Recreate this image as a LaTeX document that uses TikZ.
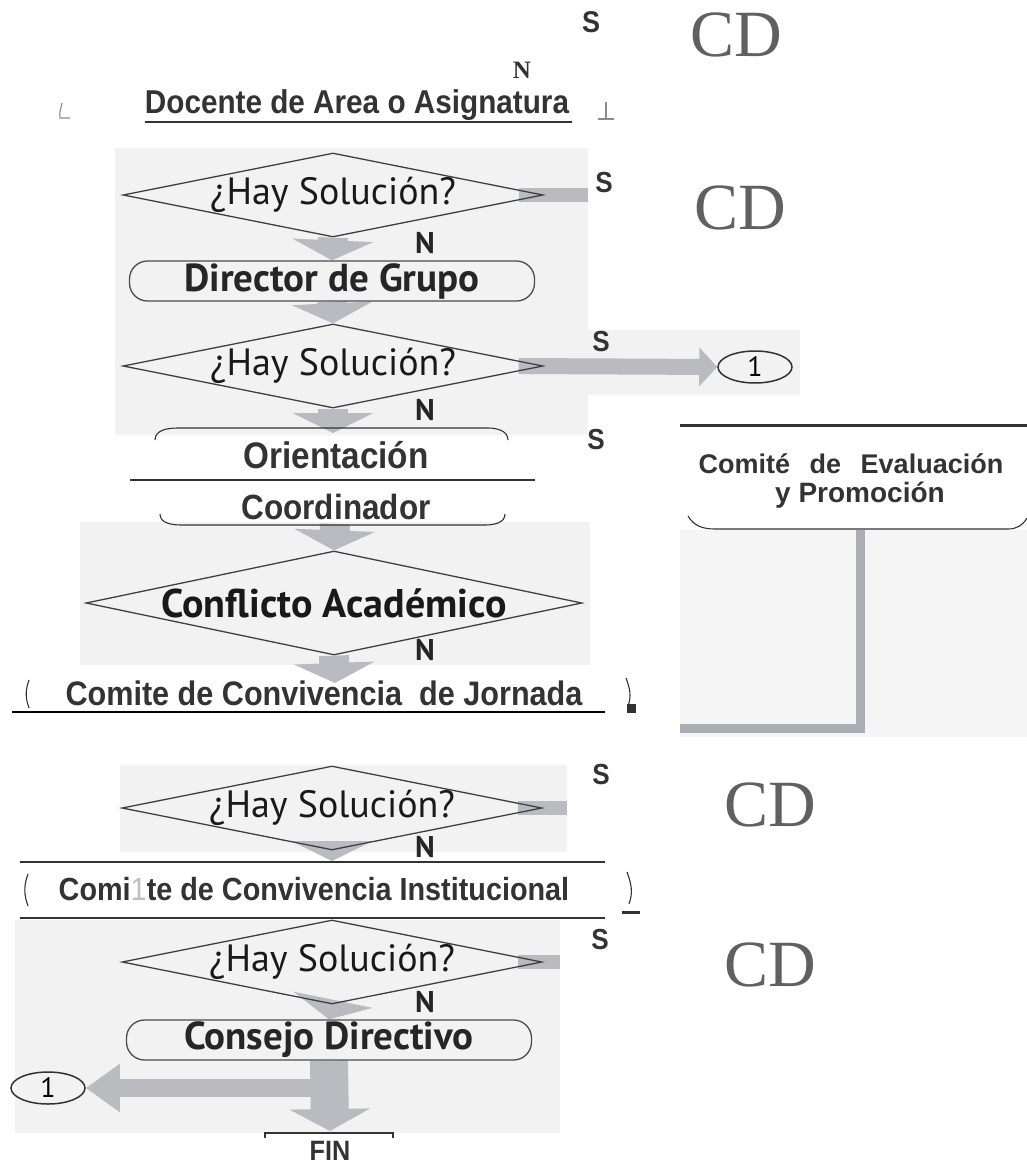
\documentclass[tikz,border=0pt]{standalone}
\usepackage{fontspec}
\setmainfont{Liberation Serif}
\newfontfamily\myriad{PT Sans}
\newfontfamily\arialn[FakeStretch=0.9]{Liberation Sans}
\newfontfamily\arialw{Liberation Sans}
\usetikzlibrary{shapes.geometric,arrows.meta}
\pgfdeclarelayer{panel}
\pgfdeclarelayer{bg}
\pgfsetlayers{panel,bg,main}
\newcommand\fsz[1]{\fontsize{#1}{#1}\selectfont}
\definecolor{pgray}{HTML}{F2F2F2}
\definecolor{pgrayb}{HTML}{F5F5F5}
\definecolor{agray}{HTML}{B9BBC0}
\definecolor{tgray}{HTML}{333333}
\definecolor{cdgray}{HTML}{606060}
\definecolor{lgray}{HTML}{AAADB4}
\tikzset{
  dia/.style={diamond, draw=black!75, line width=1.3pt, inner sep=0pt, aspect=5.2,
    minimum width=420pt, minimum height=84pt, font=\myriad\fsz{38}, text=black!90},
  rbox/.style={draw=black!70, line width=1.3pt, rounded corners=18pt, minimum width=405pt,
    minimum height=40pt, inner sep=0pt, font=\myriad\bfseries\fsz{39}, text=black!85},
  garrow/.style={draw=agray, line width=30pt, -{Triangle[width=80pt,length=20pt]}},
  gbar/.style={draw=agray, line width=14pt},
  harrow/.style={draw=agray, line width=16pt, -{Triangle[width=38pt,length=18pt]}},
  slab/.style={font=\arialn\bfseries\fsz{29}, text=tgray},
  nlab/.style={font=\myriad\bfseries\fsz{30}, text=black!85},
  cdstyle/.style={font=\fsz{66}, text=cdgray},
  atext/.style={font=\arialn\bfseries\fsz{35}, text=tgray},
  oneb/.style={ellipse, draw=black!80, line width=1.5pt, minimum width=74pt, minimum height=32pt,
    inner sep=0pt, font=\myriad\fsz{28}},
  thickln/.style={draw=tgray, line width=2.5pt},
  thinln/.style={draw=tgray, line width=1.1pt}
}
\begin{document}
\begin{tikzpicture}[x=1pt,y=-1pt]
\useasboundingbox (0,0) rectangle (1027,1167);

% panels
\begin{pgfonlayer}{panel}
\fill[white] (0,0) rectangle (1027,1167);
\fill[pgray] (115,148) rectangle (588,435);
\fill[pgray] (588,330) rectangle (800,395);
\fill[pgray] (80,522) rectangle (590,665);
\fill[pgrayb] (680,530) rectangle (1027,737);
\fill[pgray] (120,765) rectangle (567,852);
\fill[pgray] (15,920) rectangle (560,1133);
\end{pgfonlayer}

% top
\node[slab, font=\arialn\bfseries\fsz{30}] (stop) at (591,22) {S};
\node[cdstyle] (cd0) at (736,35) {CD};
\node[font=\bfseries\fsz{25}, text=tgray] (ntop) at (522,70) {N};
\node[atext, font=\arialn\bfseries\fsz{33}] (doc) at (357,105) {Docente de Area o Asignatura};
\draw[thickln, line width=2.5pt] (145,122) -- (572,122);
\draw[thinln, draw=black!45] (62,103) to[out=-100,in=100] (60,118) -- (70,118);
\draw[thinln, draw=black!45] (606,102) -- (606,119) (598,119) -- (614,119);

% diamond 1
\node[dia] (d1) at (333,195) {\makebox[0pt]{¿Hay Solución?}};
\coordinate (s1end) at (588,195);
\node[slab] (s1) at (604,183) {S};
\node[cdstyle] (cd1) at (740,208) {CD};
\node[rbox] (dir) at (332,281) {Director de Grupo};
\node[nlab] (n1) at (425,243) {N};

% diamond 2
\node[dia] (d2) at (333,366) {\makebox[0pt]{¿Hay Solución?}};
\node[oneb] (one1) at (755,367) {1};
\node[slab] (s2) at (601,342) {S};
\coordinate (octop) at (333,433);
\node[nlab] (n2) at (425,410) {N};

\begin{pgfonlayer}{bg}
\draw[gbar] ([xshift=-25pt]d1.east) -- (s1end);
\draw[garrow] (d1.south) -- (dir.north);
\draw[garrow] (dir.south) -- (d2.north);
\draw[harrow] ([xshift=-25pt]d2.east) -- (one1.west);
\draw[garrow] (d2.south) -- (octop);
\end{pgfonlayer}

% Orientacion / Coordinador
\draw[thinln] (155,440) to[out=90,in=180] (178,428) -- (488,428) to[out=0,in=90] (508,440);
\node[atext, font=\arialn\bfseries\fsz{37}] (orient) at (336,455) {Orientación};
\node[slab] (s3) at (596,440) {S};
\draw[thickln] (130,480) -- (535,480);
\node[atext] (coord) at (336,507) {Coordinador};
\draw[thinln] (160,514) to[out=-90,in=180] (182,525) -- (485,525) to[out=0,in=-90] (505,514);
\coordinate (octop2) at (335,524);

% Conflicto
\node[dia, minimum width=496pt, minimum height=104pt, font=\myriad\bfseries\fsz{40}] (d3) at (334,603) {\makebox[0pt]{Conflicto Académico}};
\coordinate (jtop) at (335,683);
\node[nlab] (n3) at (425,650) {N};
\begin{pgfonlayer}{bg}
\draw[garrow] (octop2) -- (d3.north);
\draw[garrow] (d3.south) -- (jtop);
\end{pgfonlayer}

% Jornada
\node[atext, font=\arialn\bfseries\fsz{34}] (jorn) at (324,693) {Comite de Convivencia\ \ de Jornada};
\draw[thickln, draw=black] (12,712) -- (605,712);
\draw[thinln] (29,680) to[out=-110,in=110] (29,708);
\draw[thinln] (626,678) to[out=-70,in=70] (628,706);
\fill[tgray] (627,704) rectangle (636,713);

% Comite de Evaluacion
\draw[thickln, line width=3pt] (680,425) -- (1027,425);
\node[font=\arialw\bfseries\fsz{27}, text=tgray, inner sep=0pt] (comite1) at (851,464) {Comité\hspace{12pt} de\hspace{12pt} Evaluación};
\node[font=\arialw\bfseries\fsz{28}, text=tgray, inner sep=0pt] (comite2) at (860,495) {y Promoción};
\draw[thinln] (688,516) to[out=-60,in=180] (715,529) -- (1008,529) to[out=0,in=-120] (1027,518);
\coordinate (ctop) at (860,530);
\coordinate (cmid) at (860,728);
\coordinate (cend) at (680,728);
\begin{pgfonlayer}{bg}
\draw[lgray, line width=9pt] (ctop) -- (cmid) -- (cend);
\end{pgfonlayer}

% diamond 4
\begin{scope}
\clip (100,765) rectangle (600,860);
\node[dia] (d4) at (332,808) {\makebox[0pt]{¿Hay Solución?}};
\end{scope}
\coordinate (s4end) at (567,808);
\node[slab] (s4) at (601,775) {S};
\node[cdstyle] (cd4) at (770,805) {CD};
\node[nlab] (n4) at (425,847) {N};
\coordinate (ibot) at (332,861);
\begin{pgfonlayer}{bg}
\draw[gbar] ([xshift=-25pt]d4.east) -- (s4end);
\draw[garrow] (d4.south) -- (ibot);
\end{pgfonlayer}

% Institucional
\draw[thickln] (20,862) -- (605,862);
\draw[thickln] (20,918) -- (605,918);
\node[atext, font=\arialn\bfseries\fsz{32}] (inst) at (314,889) {Comi{\mdseries\textcolor{black!25}{1}}te de Convivencia Institucional};
\draw[thinln] (28,874) to[out=-110,in=110] (28,906);
\draw[thinln] (627,872) to[out=-70,in=70] (629,904);
\draw[thickln, line width=3pt] (622,912) -- (640,912);

% diamond 5
\node[dia] (d5) at (332,962) {\makebox[0pt]{¿Hay Solución?}};
\coordinate (s5end) at (560,962);
\node[slab] (s5) at (600,940) {S};
\node[cdstyle] (cd5) at (770,965) {CD};
\node[nlab] (n5) at (425,1002) {N};
\node[rbox] (cons) at (329,1040) {Consejo Directivo};
\node[oneb] (one2) at (48,1088) {1};
\coordinate (finarr) at (330,1131);
\coordinate (lsplit) at (348,1088);
\begin{pgfonlayer}{bg}
\draw[gbar] ([xshift=-25pt]d5.east) -- (s5end);
\draw[garrow] (d5.south) -- (cons.north);
\draw[draw=agray, line width=38pt, -{Triangle[width=80pt,length=22pt]}] (cons.south) -- (finarr);
\draw[draw=agray, line width=18pt, -{Triangle[width=46pt,length=34pt]}] (lsplit) -- (one2.east);
\end{pgfonlayer}

% FIN
\draw[thinln, line width=1.5pt] (265,1138) -- (265,1133) -- (393,1133) -- (393,1138);
\node[font=\arialn\bfseries\fsz{28}, text=tgray, inner sep=1pt] (fin) at (330,1151) {FIN};
\end{tikzpicture}
\end{document}
